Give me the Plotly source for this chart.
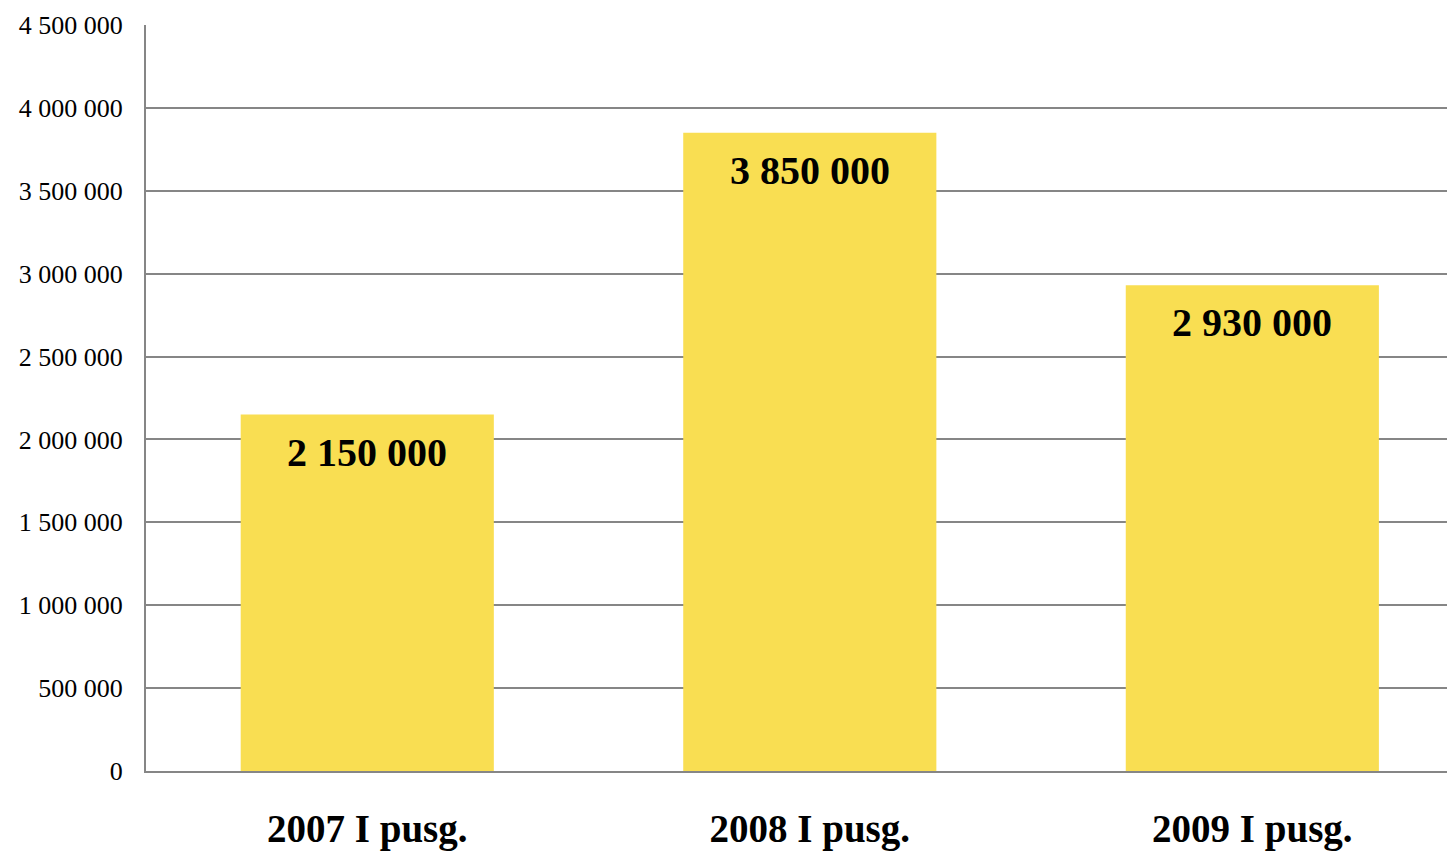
import plotly.graph_objects as go

categories = ["2007 I pusg.", "2008 I pusg.", "2009 I pusg."]
values = [2150000, 3850000, 2930000]
y_ticks = [0, 500000, 1000000, 1500000, 2000000, 2500000, 3000000, 3500000, 4000000, 4500000]

def fmt(v):
    return f"{v:,}".replace(",", " ")

fig = go.Figure()
fig.add_trace(go.Bar(
    x=categories, y=values,
    marker=dict(color="#F9DE52", line=dict(width=0)),
    hoverinfo="skip",
))

for c, v in zip(categories, values):
    fig.add_annotation(
        x=c, y=v, text=fmt(v), showarrow=False, yanchor="top", yshift=-13,
        font=dict(family="Liberation Serif", size=40, color="black", weight="bold"),
    )

fig.update_layout(
    width=1447, height=844,
    margin=dict(l=138, r=0, t=17, b=81),
    plot_bgcolor="white", paper_bgcolor="white",
    bargap=0.428,
    showlegend=False,
    xaxis=dict(
        range=[-0.5, 2.458],
        automargin=False,
        showline=True, linecolor="#868686", linewidth=2,
        showgrid=False, ticks="",
        ticklabelstandoff=22,
        tickfont=dict(family="Liberation Serif", size=39, color="black", weight="bold"),
    ),
    yaxis=dict(
        range=[0, 4500000],
        automargin=False,
        tickvals=y_ticks,
        ticktext=[fmt(v) for v in y_ticks],
        showline=True, linecolor="#868686", linewidth=2,
        showgrid=True, gridcolor="#868686", gridwidth=2,
        zeroline=False, ticks="",
        ticklabelstandoff=16,
        tickfont=dict(family="Liberation Serif", size=26, color="black"),
    ),
)

fig.write_html("out.html")
